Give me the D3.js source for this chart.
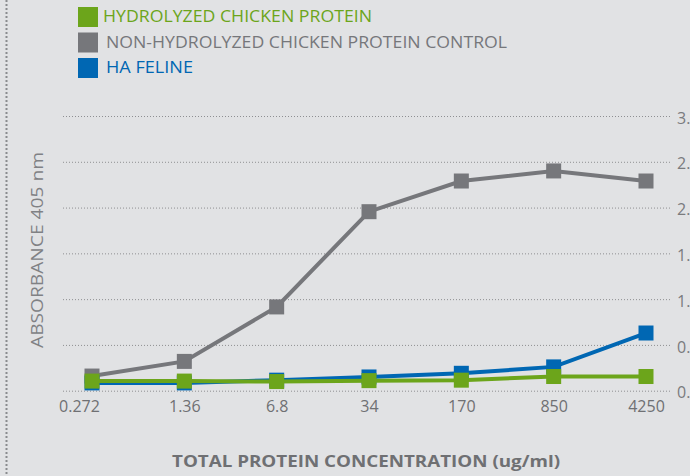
<!DOCTYPE html>
<html>
<head>
<meta charset="utf-8">
<script src="https://cdnjs.cloudflare.com/ajax/libs/d3/7.8.5/d3.min.js"></script>
<style>
  html, body { margin: 0; padding: 0; background: #e1e2e4; overflow: hidden; }
  text { font-family: "Open Sans", Lato, sans-serif; }
</style>
</head>
<body>
<script>
var svgWidth = 690;
var svgHeight = 476;

// data
var concentrations = [0.272, 1.36, 6.8, 34, 170, 850, 4250];
var tickLabels = ["0.272", "1.36", "6.8", "34", "170", "850", "4250"];
var yTicks = [0, 0.5, 1.0, 1.5, 2.0, 2.5, 3.0];
var seriesNames = ["HYDROLYZED CHICKEN PROTEIN", "NON-HYDROLYZED CHICKEN PROTEIN CONTROL", "HA FELINE"];
var hydrolyzed = [0.105, 0.105, 0.10, 0.11, 0.115, 0.155, 0.155];
var nonHydrolyzed = [0.16, 0.32, 0.915, 1.955, 2.29, 2.40, 2.29];
var haFeline = [0.085, 0.085, 0.115, 0.15, 0.19, 0.26, 0.63];

var colors = { green: "#6ca51b", gray: "#76777b", blue: "#0067b3" };

var svg = d3.select("body")
  .append("svg")
  .attr("width", svgWidth)
  .attr("height", svgHeight);

// dotted left border
svg.append("line")
  .attr("x1", 6.5).attr("x2", 6.5)
  .attr("y1", 0).attr("y2", svgHeight)
  .attr("stroke", "#8a8b8e")
  .attr("stroke-width", 2)
  .attr("stroke-dasharray", "2,2");

var x = d3.scaleLog().base(5)
  .domain([0.272, 4250])
  .range([92, 646]);

var y = d3.scaleLinear()
  .domain([0, 3])
  .range([390.7, 116]);

// grid lines + right tick labels (cut by the page edge, like the original)
var rightAxis = d3.axisRight(y)
  .tickValues(yTicks)
  .tickSize(672 - 63)
  .tickPadding(5)
  .tickFormat(d3.format(".1f"));

var gy = svg.append("g")
  .attr("transform", "translate(63,0)")
  .call(rightAxis);
gy.select(".domain").remove();
gy.selectAll(".tick line")
  .attr("stroke", "#8e8f92")
  .attr("stroke-width", 1)
  .attr("stroke-dasharray", "1,2");
gy.selectAll(".tick text")
  .attr("fill", "#7a7b7e")
  .attr("dy", "0.45em")
  .style("font-size", "16px");

// bottom tick labels
var bottomAxis = d3.axisBottom(x)
  .tickValues(concentrations)
  .tickSize(0)
  .tickPadding(3)
  .tickFormat(function (d, i) { return tickLabels[i]; });

var gx = svg.append("g")
  .attr("transform", "translate(0,398)")
  .call(bottomAxis);
gx.select(".domain").remove();
gx.selectAll(".tick text")
  .attr("fill", "#6f7073")
  .attr("dx", function (d, i) { return i === 0 ? -13 : 0; })
  .style("font-size", "16px");

// lines and markers; gray first, then blue, then green on top
var series = [
  { values: nonHydrolyzed, color: colors.gray },
  { values: haFeline, color: colors.blue },
  { values: hydrolyzed, color: colors.green }
];

var line = d3.line()
  .x(function (d, i) { return x(concentrations[i]); })
  .y(function (d) { return y(d); });

series.forEach(function (s) {
  svg.append("path")
    .datum(s.values)
    .attr("fill", "none")
    .attr("stroke", s.color)
    .attr("stroke-width", 4)
    .attr("d", line);

  svg.selectAll(null)
    .data(s.values)
    .enter()
    .append("rect")
    .attr("x", function (d, i) { return x(concentrations[i]) - 7.5; })
    .attr("y", function (d) { return y(d) - 7.5; })
    .attr("width", 15)
    .attr("height", 15)
    .attr("fill", s.color);
});

// legend
var legendColors = [colors.green, colors.gray, colors.blue];
var legendWidths = [269, 401, 87];
var legend = svg.selectAll(".legend")
  .data(seriesNames)
  .enter()
  .append("g")
  .attr("class", "legend")
  .attr("transform", function (d, i) { return "translate(78," + (7 + i * 25.5) + ")"; });

legend.append("rect")
  .attr("width", 20)
  .attr("height", 20)
  .attr("fill", function (d, i) { return legendColors[i]; });

legend.append("text")
  .attr("x", function (d, i) { return i === 0 ? 25 : 28; })
  .attr("y", 15)
  .attr("fill", function (d, i) { return legendColors[i]; })
  .attr("textLength", function (d, i) { return legendWidths[i]; })
  .attr("lengthAdjust", "spacingAndGlyphs")
  .style("font-size", "16px")
  .text(function (d) { return d; });

// Y axis label
svg.append("text")
  .attr("transform", "translate(43,250) rotate(-90)")
  .attr("text-anchor", "middle")
  .attr("fill", "#808184")
  .attr("textLength", 196)
  .attr("lengthAdjust", "spacingAndGlyphs")
  .style("font-size", "15.5px")
  .text("ABSORBANCE 405 nm");

// X axis label
svg.append("text")
  .attr("x", 172)
  .attr("y", 467)
  .attr("fill", "#6f7073")
  .attr("textLength", 388)
  .attr("lengthAdjust", "spacingAndGlyphs")
  .style("font-size", "16px")
  .style("font-weight", "bold")
  .text("TOTAL PROTEIN CONCENTRATION (ug/ml)");
</script>
</body>
</html>
